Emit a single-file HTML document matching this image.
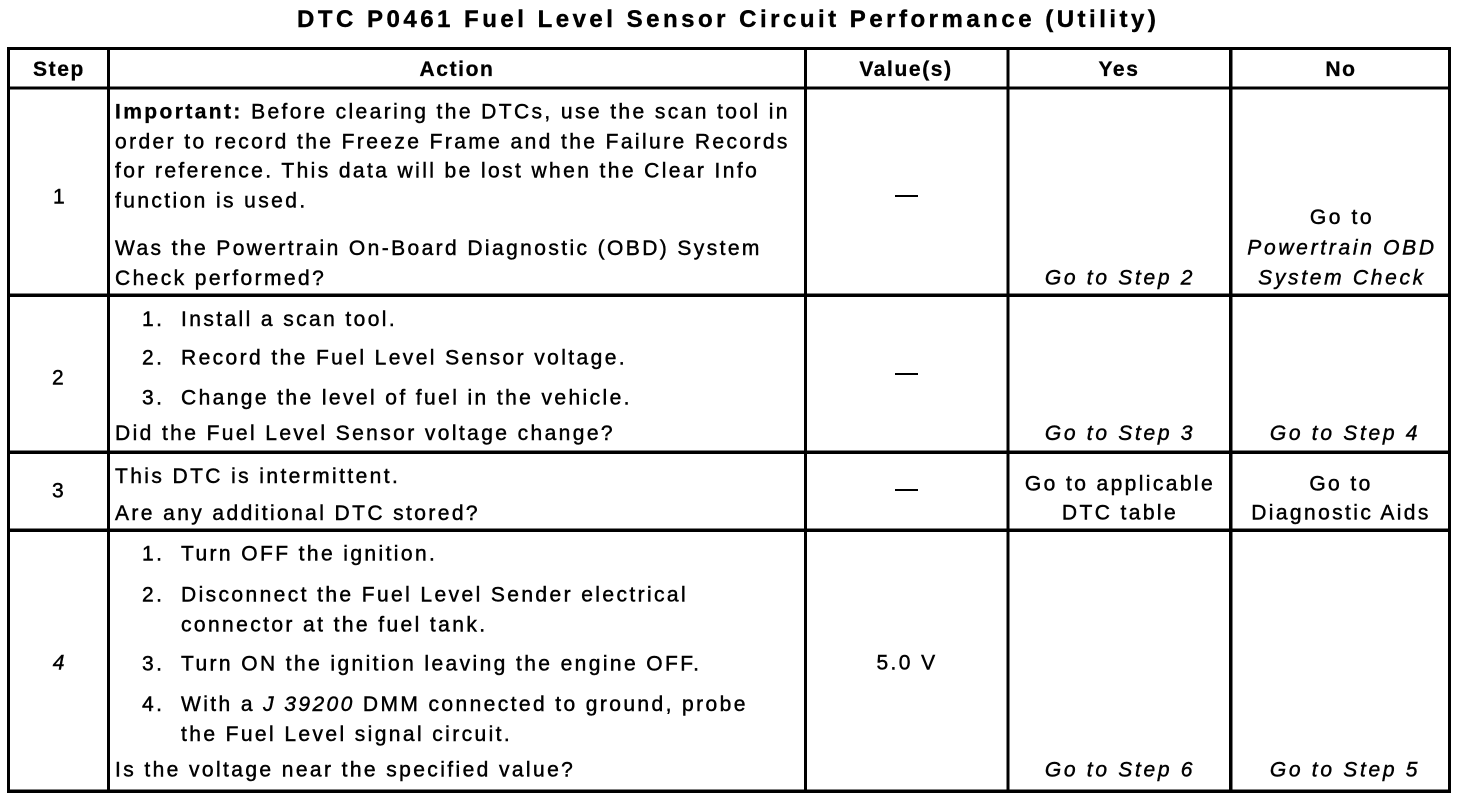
<!DOCTYPE html>
<html>
<head>
<meta charset="utf-8">
<style>
  html, body { margin: 0; padding: 0; background: #fff; }
  body { width: 1472px; height: 798px; overflow: hidden; }
  svg { display: block; }
  text { font-family: "Liberation Sans", Arial, sans-serif; fill: #000; stroke: #000; stroke-width: 0.45px; }
  .t { font-size: 21px; letter-spacing: 2.4px; }
  .i { font-size: 21px; letter-spacing: 2.7px; font-style: italic; }
  .h { font-size: 21px; letter-spacing: 1.6px; font-weight: bold; stroke-width: 0.3px; }
  .title { font-size: 24px; letter-spacing: 3.5px; font-weight: bold; stroke-width: 0.4px; }
</style>
</head>
<body>
<svg width="1472" height="798" viewBox="0 0 1472 798" xmlns="http://www.w3.org/2000/svg">
  <rect x="0" y="0" width="1472" height="798" fill="#fff"/>

  <!-- Title -->
  <text class="title" x="297" y="27">DTC P0461 Fuel Level Sensor Circuit Performance (Utility)</text>

  <!-- Grid lines -->
  <g fill="#000">
    <rect x="7" y="47" width="3" height="746"/>
    <rect x="107" y="47" width="3" height="746"/>
    <rect x="804" y="47" width="3" height="746"/>
    <rect x="1006.5" y="47" width="3" height="746"/>
    <rect x="1229" y="47" width="3.5" height="746"/>
    <rect x="1448" y="47" width="3" height="746"/>
    <rect x="7" y="47" width="1444" height="3"/>
    <rect x="7" y="86.5" width="1444" height="3"/>
    <rect x="7" y="293.5" width="1444" height="3.5"/>
    <rect x="7" y="450.5" width="1444" height="3.5"/>
    <rect x="7" y="528.5" width="1444" height="3.5"/>
    <rect x="7" y="789.5" width="1444" height="3.5"/>
  </g>

  <!-- Header -->
  <text class="h" x="59" y="76" text-anchor="middle">Step</text>
  <text class="h" x="457" y="76" text-anchor="middle">Action</text>
  <text class="h" x="906" y="76" text-anchor="middle">Value(s)</text>
  <text class="h" x="1119" y="76" text-anchor="middle">Yes</text>
  <text class="h" x="1341" y="76" text-anchor="middle">No</text>

  <!-- Row 1 -->
  <text class="t" x="60" y="203.5" text-anchor="middle">1</text>
  <text class="t" x="115" y="118.5"><tspan font-weight="bold" style="stroke-width:0.3px">Important:</tspan> Before clearing the DTCs, use the scan tool in</text>
  <text class="t" x="115" y="148.3">order to record the Freeze Frame and the Failure Records</text>
  <text class="t" x="115" y="177.3">for reference. This data will be lost when the Clear Info</text>
  <text class="t" x="115" y="207.3">function is used.</text>
  <text class="t" x="115" y="255">Was the Powertrain On-Board Diagnostic (OBD) System</text>
  <text class="t" x="115" y="285">Check performed?</text>
  <rect x="895" y="195" width="23" height="2" fill="#000"/>
  <text class="i" x="1120" y="284.5" text-anchor="middle">Go to Step 2</text>
  <text class="t" x="1342" y="224" text-anchor="middle" style="letter-spacing:2.6px">Go to</text>
  <text class="i" x="1342" y="254.5" text-anchor="middle">Powertrain OBD</text>
  <text class="i" x="1342" y="284.5" text-anchor="middle">System Check</text>

  <!-- Row 2 -->
  <text class="t" x="59" y="384.5" text-anchor="middle">2</text>
  <text class="t" x="142" y="326">1.</text>
  <text class="t" x="181" y="326">Install a scan tool.</text>
  <text class="t" x="142" y="364.5">2.</text>
  <text class="t" x="181" y="364.5">Record the Fuel Level Sensor voltage.</text>
  <text class="t" x="142" y="404.5">3.</text>
  <text class="t" x="181" y="404.5">Change the level of fuel in the vehicle.</text>
  <text class="t" x="115" y="440">Did the Fuel Level Sensor voltage change?</text>
  <rect x="895" y="373" width="23" height="2" fill="#000"/>
  <text class="i" x="1120" y="440" text-anchor="middle">Go to Step 3</text>
  <text class="i" x="1345" y="440" text-anchor="middle">Go to Step 4</text>

  <!-- Row 3 -->
  <text class="t" x="59" y="497.5" text-anchor="middle">3</text>
  <text class="t" x="115" y="483">This DTC is intermittent.</text>
  <text class="t" x="115" y="520">Are any additional DTC stored?</text>
  <rect x="895" y="489" width="23" height="2" fill="#000"/>
  <text class="t" x="1120" y="490.5" text-anchor="middle">Go to applicable</text>
  <text class="t" x="1120" y="519.5" text-anchor="middle">DTC table</text>
  <text class="t" x="1341" y="490.5" text-anchor="middle">Go to</text>
  <text class="t" x="1341" y="519.5" text-anchor="middle">Diagnostic Aids</text>

  <!-- Row 4 -->
  <text class="i" x="60" y="669.5" text-anchor="middle">4</text>
  <text class="t" x="142" y="560.5">1.</text>
  <text class="t" x="181" y="560.5">Turn OFF the ignition.</text>
  <text class="t" x="142" y="601.5">2.</text>
  <text class="t" x="181" y="601.5">Disconnect the Fuel Level Sender electrical</text>
  <text class="t" x="181" y="631.5">connector at the fuel tank.</text>
  <text class="t" x="142" y="670.5">3.</text>
  <text class="t" x="181" y="670.5">Turn ON the ignition leaving the engine OFF.</text>
  <text class="t" x="142" y="711">4.</text>
  <text class="t" x="181" y="711">With a <tspan font-style="italic">J 39200</tspan> DMM connected to ground, probe</text>
  <text class="t" x="181" y="741">the Fuel Level signal circuit.</text>
  <text class="t" x="115" y="776.5">Is the voltage near the specified value?</text>
  <text class="t" x="907" y="669.5" text-anchor="middle">5.0 V</text>
  <text class="i" x="1120" y="776.5" text-anchor="middle">Go to Step 6</text>
  <text class="i" x="1345" y="776.5" text-anchor="middle">Go to Step 5</text>
</svg>
</body>
</html>
